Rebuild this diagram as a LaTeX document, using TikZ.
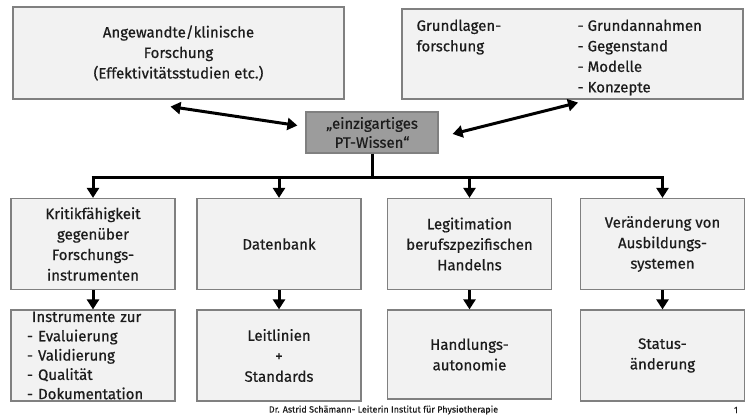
\documentclass[tikz,border=0pt]{standalone}
\usepackage{fontspec}
\setmainfont{Fira Sans}[UprightFeatures={FakeBold=0.6}]
\usetikzlibrary{arrows.meta,calc}

\definecolor{boxfill}{HTML}{F2F2F2}
\definecolor{boxline}{HTML}{808080}
\definecolor{corefill}{HTML}{9C9C9C}
\definecolor{inktext}{HTML}{1C1C1C}

\tikzset{
    box/.style={draw=boxline, fill=boxfill, line width=1.2pt, inner sep=0pt, align=center,
        text=inktext, font=\fontsize{15}{20.5}\selectfont},
    lowbox/.style={box, minimum width=164pt, minimum height=91pt},
    corebox/.style={box, fill=corefill, minimum width=132pt, minimum height=41pt,
        font=\fontsize{15}{19}\selectfont},
    plain/.style={inner sep=0pt, align=left, text=inktext, font=\fontsize{15}{20.5}\selectfont},
    link/.style={line width=3pt},
    tip/.tip={Triangle[width=12pt,length=10pt]},
    arr/.style={link, -tip},
    dblarr/.style={link, tip-tip},
}

\begin{document}
\begin{tikzpicture}[x=1pt,y=-1pt]
    \useasboundingbox (0,0) rectangle (747,417);
    \node[box, minimum width=331pt, minimum height=92pt] (angew) at (178.5,53) {Angewandte/klinische\\Forschung\\(Effektivitätsstudien etc.)};
    \node[box, minimum width=341pt, minimum height=90pt] (grund) at (572.5,54) {};
    \node[plain, anchor=north west] (grundl) at ($(grund.north west)+(15,11)$) {Grundlagen-\\forschung};
    \node[plain, anchor=north west] (grundr) at ($(grund.north west)+(176,11)$) {- Grundannahmen\\- Gegenstand\\- Modelle\\- Konzepte};
    \node[corebox] (wissen) at (372,132.5) {„einzigartiges\\PT-Wissen“};

    \node[lowbox] (k1) at (93,244) {Kritikfähigkeit\\gegenüber\\Forschungs-\\instrumenten};
    \node[lowbox] (k2) at (279,244) {Datenbank};
    \node[lowbox] (k3) at (469.5,244) {Legitimation\\berufszpezifischen\\Handelns};
    \node[lowbox] (k4) at (662.5,244) {Veränderung von\\Ausbildungs-\\systemen};

    \node[lowbox, align=left, text width=132pt, inner xsep=16pt, font=\fontsize{15}{19.3}\selectfont] (u1) at (93,355.5) {\hspace*{5pt}Instrumente zur\\- Evaluierung\\- Validierung\\- Qualität\\- Dokumentation};
    \node[lowbox] (u2) at (279,355.5) {Leitlinien\\+\\Standards};
    \node[lowbox, minimum height=89pt] (u3) at (469.5,354.5) {Handlungs-\\autonomie};
    \node[lowbox] (u4) at (662.5,355.5) {Status-\\änderung};

    \coordinate (bus) at (0,177);
    \draw[dblarr] ($(angew.south)+(-8,7)$) -- ($(wissen.west)+(-8,-7)$);
    \draw[dblarr] ($(wissen.east)+(14,1.5)$) -- ($(grund.south)+(5.5,3)$);
    \draw[link] (wissen.south) -- (wissen.south |- bus);
    \draw[link] ([xshift=-1.5pt]k1.north |- bus) -- ([xshift=1.5pt]k4.north |- bus);
    \foreach \i in {1,...,4} {
        \draw[arr] (k\i.north |- bus) -- (k\i.north);
        \draw[arr] (k\i.south) -- (u\i.north);
    }

    \node[inner sep=0pt, text=inktext, font=\fontsize{9}{10}\selectfont] (foot) at (383.5,410) {Dr. Astrid Schämann- Leiterin Institut für Physiotherapie};
    \node[inner sep=0pt, text=inktext, font=\fontsize{9}{10}\selectfont] (page) at (736,410) {1};
\end{tikzpicture}
\end{document}
